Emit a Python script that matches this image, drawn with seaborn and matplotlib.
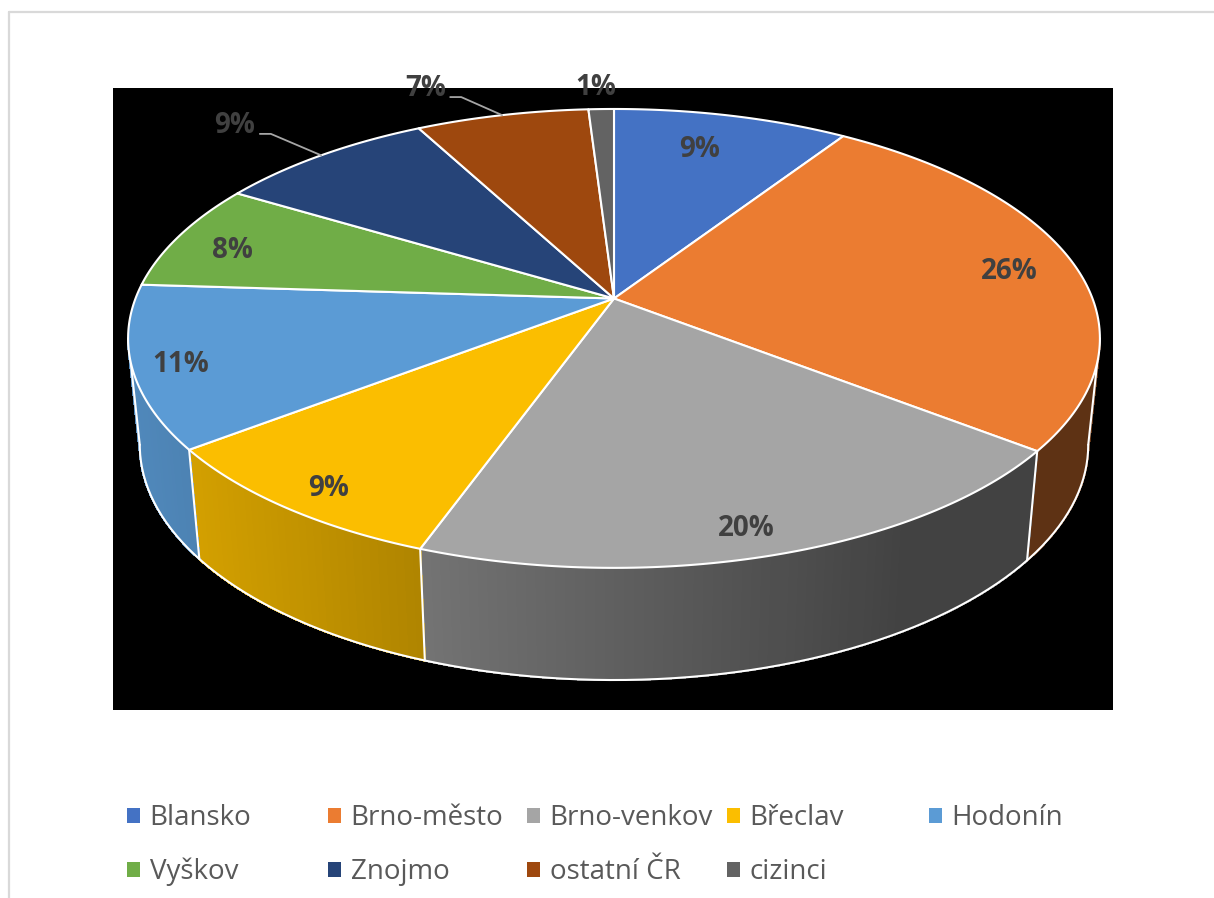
import numpy as np
import matplotlib
matplotlib.use("Agg")
import matplotlib.pyplot as plt
from matplotlib.lines import Line2D
from matplotlib.patches import Patch
import seaborn as sns

# ---- data -------------------------------------------------------------
categories = ["Blansko", "Brno-město", "Brno-venkov", "Břeclav", "Hodonín",
              "Vyškov", "Znojmo", "ostatní ČR", "cizinci"]
shares = [9.25, 26.25, 20.0, 9.1, 11.4, 7.6, 8.6, 6.8, 1.0]
slice_colors = ["#4472C4", "#EB7C31", "#A5A5A5", "#FBBE00", "#5B9BD5",
                "#70AD47", "#264478", "#9E480E", "#636363"]

# ---- label placement (radius as a fraction of the disk, angle shift) ---
label_radius = [0.80, 0.86, 0.90, 0.90, 0.90, 0.86, 1.293, 1.237, 1.153]
label_shift = [-1.6, 0.5, 0.9, -1.1, -0.6, -1.3, -1.4, -6.4, -0.2]
leader_slices = [6, 7]

# ---- style / layout ----------------------------------------------------
W, H = 1214, 898
sns.set_theme(style="white")
plt.rcParams["font.family"] = ["Open Sans", "DejaVu Sans"]
palette = sns.color_palette(slice_colors)
FONT_LABEL = 20
FONT_LEGEND = 20
legend_col_x = [127, 328, 527, 727, 929]
legend_row_y = [818, 872]

fig = plt.figure(figsize=(W / 100, H / 100), dpi=100, facecolor="white")
ax = fig.add_axes([113 / W, 1 - 710 / H, 1000 / W, 622 / H])
ax.set_facecolor("black")
ax.set_xlim(113, 1113)
ax.set_ylim(710, 88)
ax.set_xticks([])
ax.set_yticks([])
for s in ax.spines.values():
    s.set_visible(False)

# perspective disk: angle clockwise from twelve o'clock -> picture position
CX, K = 614.0, 0.174


def project(deg, r=1.0, ax_x=478.5, ax_y=222.5, apex=298.5):
    a = np.radians(deg)
    u, v = r * np.sin(a), r * np.cos(a)
    d = 1 + K * v
    return CX + ax_x * u / d, apex - ax_y * v / d


def bottom(deg):
    return project(deg, 1.0, 467.0, 228.0, 404.0)


def shade(rgb, x):
    f = max(0.40, 0.88 - (x - 130) * 0.00062)
    return tuple(c * f for c in rgb)


edges = np.concatenate([[0], np.cumsum(shares)]) / np.sum(shares) * 360
WALL_A, WALL_B = 100.0, 260.0
WHITE_LW = 1.5

# side wall, shaded from left to right
for i, rgb in enumerate(palette):
    lo, hi = max(edges[i], WALL_A), min(edges[i + 1], WALL_B)
    if hi <= lo:
        continue
    steps = np.linspace(lo, hi, int((hi - lo) / 1.0) + 2)
    for a0, a1 in zip(steps[:-1], steps[1:]):
        x0, y0 = project(a0)
        x1, y1 = project(a1)
        x2, y2 = bottom(a1)
        x3, y3 = bottom(a0)
        col = shade(rgb, (x0 + x1 + x2 + x3) / 4)
        ax.fill([x0, x1, x2, x3], [y0, y1, y2, y3], facecolor=col,
                edgecolor=col, linewidth=1.0, antialiased=False, zorder=1)

# white outline of the wall
rim = np.linspace(WALL_A, WALL_B, 200)
bx, by = bottom(rim)
ax.plot(bx, by, color="white", lw=WHITE_LW, zorder=2)
for a in [WALL_A, WALL_B] + [e for e in edges if WALL_A < e < WALL_B]:
    tx, ty = project(a)
    qx, qy = bottom(a)
    ax.plot([tx, qx], [ty, qy], color="white", lw=WHITE_LW, zorder=2)

# top face
for i, rgb in enumerate(palette):
    ang = np.linspace(edges[i], edges[i + 1], 120)
    x, y = project(ang)
    ax.fill(np.r_[CX, x], np.r_[298.5, y], facecolor=rgb, edgecolor="white",
            linewidth=WHITE_LW, joinstyle="round", zorder=3)

# data labels
mids = (edges[:-1] + edges[1:]) / 2
for i, share in enumerate(shares):
    lx, ly = project(mids[i] + label_shift[i], label_radius[i])
    ax.text(lx - 2, ly + 2.5, f"{share:.0f}%", ha="center", va="center",
            fontsize=FONT_LABEL, fontweight="bold", color="#404040", zorder=6)
    if i in leader_slices:
        rx, ry = project(mids[i])
        ax.plot([lx + 23, lx + 34, rx], [ly + 11, ly + 11, ry],
                color="#a6a6a6", lw=1.3, zorder=5)

# legend, one entry per grid cell
for i, (name, rgb) in enumerate(zip(categories, palette)):
    col, row = i % 5, i // 5
    size_px = FONT_LEGEND * 100 / 72
    fig.legend(handles=[Patch(facecolor=rgb, edgecolor="none")], labels=[name],
               loc="center left", frameon=False, fontsize=FONT_LEGEND,
               bbox_to_anchor=(legend_col_x[col] / W, 1 - legend_row_y[row] / H),
               borderpad=0, borderaxespad=0, handlelength=12.5 / size_px,
               handleheight=12.5 / size_px, handletextpad=10 / size_px,
               labelcolor="#595959")

# chart frame (left and top edges are what the crop shows)
frame = dict(color="#d9d9d9", lw=1.6, transform=fig.transFigure)
fig.add_artist(Line2D([9 / W, 9 / W], [0, 1 - 12 / H], **frame))
fig.add_artist(Line2D([9 / W, 1], [1 - 12 / H, 1 - 12 / H], **frame))

fig.savefig("out.png", dpi=100, facecolor="white")
